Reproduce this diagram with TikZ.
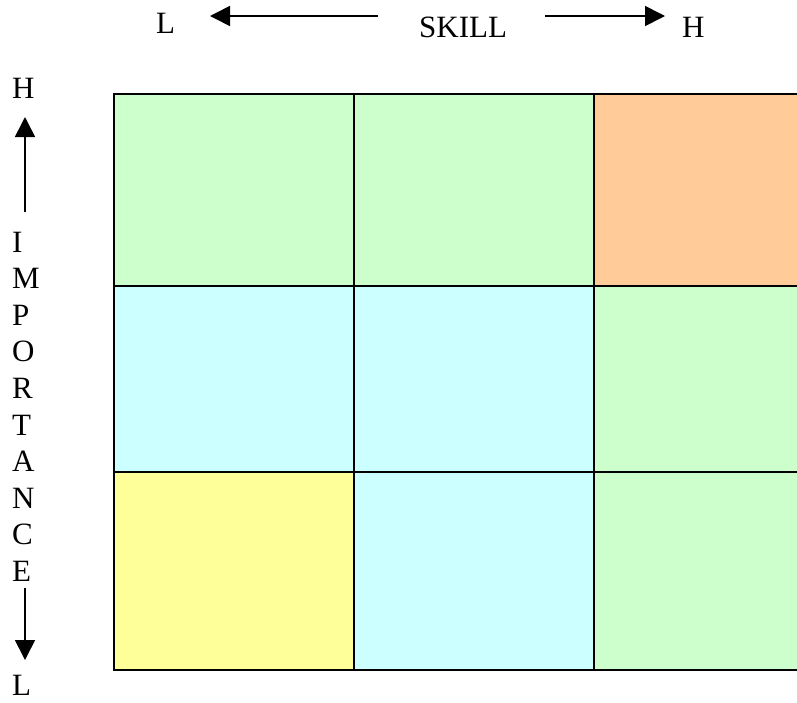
\documentclass[tikz,border=0pt]{standalone}
\usepackage{fontspec}
\setmainfont{Liberation Serif}
\usetikzlibrary{arrows.meta}
\definecolor{cgreen}{HTML}{CCFFCC}
\definecolor{corange}{HTML}{FFCC99}
\definecolor{ccyan}{HTML}{CCFFFF}
\definecolor{cyellow}{HTML}{FFFF99}
\begin{document}
\begin{tikzpicture}[x=1pt,y=-1pt,
  cell/.style={draw=black, line width=1.6pt, inner sep=0pt, anchor=north west},
  lbl/.style={font=\fontsize{31}{31}\selectfont, inner sep=0pt, text depth=0pt, anchor=base west},
  arr/.style={line width=1.6pt, -{Triangle[length=20pt,width=20pt]}}]
\clip (0,0) rectangle (797,702);
% grid cells
\node[cell, fill=cgreen,  minimum width=240pt, minimum height=192pt] (c11) at (113,93) {};
\node[cell, fill=cgreen,  minimum width=240pt, minimum height=192pt] (c12) at (353,93) {};
\node[cell, fill=corange, minimum width=210pt, minimum height=192pt] (c13) at (593,93) {};
\node[cell, fill=ccyan,   minimum width=240pt, minimum height=186pt] (c21) at (113,285) {};
\node[cell, fill=ccyan,   minimum width=240pt, minimum height=186pt] (c22) at (353,285) {};
\node[cell, fill=cgreen,  minimum width=210pt, minimum height=186pt] (c23) at (593,285) {};
\node[cell, fill=cyellow, minimum width=240pt, minimum height=198pt] (c31) at (113,471) {};
\node[cell, fill=ccyan,   minimum width=240pt, minimum height=198pt] (c32) at (353,471) {};
\node[cell, fill=cgreen,  minimum width=210pt, minimum height=198pt] (c33) at (593,471) {};
% top axis
\node[lbl] (tl) at (156,33) {L};
\node[lbl] (skill) at (419,37) {SKILL};
\node[lbl] (th) at (682,37) {H};
\coordinate (la0) at (378,16);
\coordinate (la1) at (210,16);
\coordinate (ra0) at (545,16);
\coordinate (ra1) at (665,16);
\draw[arr] (la0) -- (la1);
\draw[arr] (ra0) -- (ra1);
% left axis
\node[lbl] (lh) at (12,98) {H};
\node[lbl] (v1) at (12,252) {I};
\node[lbl] (v2) at (12,288.6) {M};
\node[lbl] (v3) at (12,325.2) {P};
\node[lbl] (v4) at (12,361.8) {O};
\node[lbl] (v5) at (12,398.4) {R};
\node[lbl] (v6) at (12,435) {T};
\node[lbl] (v7) at (12,471.6) {A};
\node[lbl] (v8) at (12,508.2) {N};
\node[lbl] (v9) at (12,544.8) {C};
\node[lbl] (v10) at (12,581.4) {E};
\node[lbl] (ll) at (12,695) {L};
\coordinate (ua0) at (25,212);
\coordinate (ua1) at (25,117);
\coordinate (da0) at (25,588);
\coordinate (da1) at (25,660);
\draw[arr] (ua0) -- (ua1);
\draw[arr] (da0) -- (da1);
\end{tikzpicture}
\end{document}
